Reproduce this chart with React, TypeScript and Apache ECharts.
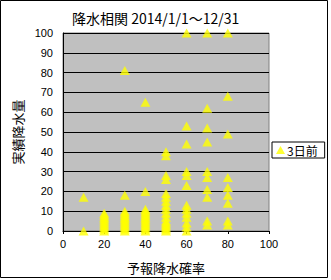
import React, { useEffect, useRef } from "react";
import * as echarts from "echarts";

const titleText = "降水相関 2014/1/1～12/31";
const xName = "予報降水確率";
const yName = "実績降水量";
const seriesName = "3日前";

// forecast probability (%) -> observed precipitation values
const prob10 = [17, 0];
const prob20 = [9, 8, 7, 6, 5, 4, 3, 2, 1, 0];
const prob30 = [81, 18, 10, 9, 8, 7, 6, 5, 4, 3, 2, 1, 0];
const prob40 = [65, 20, 11, 10, 9, 8, 7, 6, 5, 4, 3, 2, 1, 0];
const prob50 = [40, 38, 28, 26, 19, 17, 15, 13, 11, 9, 7, 5, 4, 3, 2, 1, 0];
const prob60 = [100, 53, 44, 30, 28, 23, 13, 11, 9, 7, 4, 2, 0];
const prob70 = [100, 62, 52, 45, 30, 27, 21, 17, 5, 3];
const prob80 = [100, 68, 49, 27, 22, 18, 14, 5, 3];

const groups: [number, number[]][] = [
  [10, prob10],
  [20, prob20],
  [30, prob30],
  [40, prob40],
  [50, prob50],
  [60, prob60],
  [70, prob70],
  [80, prob80],
];

const FONT = "'Liberation Sans', 'Noto Sans CJK JP', sans-serif";
const CJK = "'Noto Sans CJK JP', sans-serif";

export default function App() {
  const ref = useRef<HTMLDivElement>(null);
  useEffect(() => {
    if (!ref.current) return;
    const chart = echarts.init(ref.current, null, { renderer: "svg" });
    const data: number[][] = [];
    groups.forEach(([p, vals]) => vals.forEach((v) => data.push([p, v])));
    chart.setOption({
      animation: false,
      backgroundColor: "#ffffff",
      title: {
        text: titleText,
        left: 67,
        top: 6,
        textStyle: { fontSize: 14, fontWeight: "normal", color: "#000", fontFamily: CJK },
      },
      grid: {
        left: 63,
        right: 62,
        top: 33,
        bottom: 49,
        show: true,
        backgroundColor: "#c0c0c0",
        borderColor: "#808080",
        borderWidth: 1,
      },
      legend: {
        left: 272,
        top: 142,
        orient: "vertical",
        backgroundColor: "#ffffff",
        borderColor: "#000",
        borderWidth: 1,
        padding: [2, 7, 2, 4],
        itemWidth: 9,
        itemHeight: 8,
        itemGap: 0,
        icon: "triangle",
        textStyle: { fontSize: 12, color: "#000", fontFamily: CJK, padding: [0, 0, 0, -3] },
        data: [{ name: seriesName, itemStyle: { color: "#ffff00" } }],
      },
      xAxis: {
        type: "value",
        min: 0,
        max: 100,
        interval: 20,
        name: xName,
        nameLocation: "middle",
        nameGap: 30,
        nameTextStyle: { fontSize: 13, color: "#000", fontFamily: CJK },
        axisLine: { show: true, lineStyle: { color: "#000" } },
        axisTick: { show: true, length: 3, lineStyle: { color: "#000" } },
        axisLabel: { fontSize: 11, color: "#000", margin: 7, fontFamily: FONT },
        splitLine: { show: false },
      },
      yAxis: {
        type: "value",
        min: 0,
        max: 100,
        interval: 10,
        name: yName,
        nameLocation: "middle",
        nameRotate: 90,
        nameGap: 37,
        nameTextStyle: { fontSize: 13, color: "#000", fontFamily: CJK },
        axisLine: { show: true, lineStyle: { color: "#000" } },
        axisTick: { show: false },
        axisLabel: { fontSize: 11, color: "#000", margin: 10, fontFamily: FONT },
        splitLine: { show: true, lineStyle: { color: "#000", width: 1 } },
      },
      graphic: [
        {
          type: "rect",
          shape: { x: 0.5, y: 0.5, width: 327, height: 277 },
          style: { fill: "none", stroke: "#000", lineWidth: 1 },
          silent: true,
          z: 100,
        },
      ],
      series: [
        {
          name: seriesName,
          type: "scatter",
          symbol: "triangle",
          symbolSize: [10, 9],
          clip: false,
          itemStyle: { color: "#ffff00" },
          data,
        },
      ],
    });
    return () => chart.dispose();
  }, []);
  return (
    <div
      ref={ref}
      style={{ position: "absolute", left: 0, top: 0, width: 331, height: 280 }}
    />
  );
}
